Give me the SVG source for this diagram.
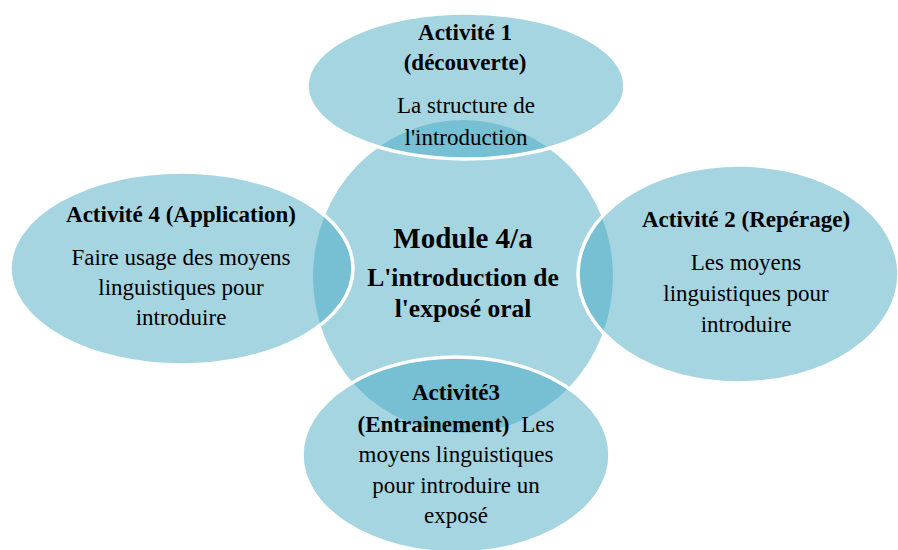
<svg xmlns="http://www.w3.org/2000/svg" width="898" height="550" viewBox="0 0 898 550">
<style>
.bg{fill:#ffffff}
.hub{fill:#a6d5e2}
.sat{fill:#46a8c3;fill-opacity:0.48;stroke:#ffffff;stroke-width:3.5}
text{font-family:"Liberation Serif","Times New Roman",serif;fill:#000000;text-anchor:middle}
.t{font-size:23px;font-weight:bold}
.r{font-size:23px}
.m1{font-size:29px;font-weight:bold}
.m2{font-size:25.5px;font-weight:bold}
</style>
<rect class="bg" x="0" y="0" width="898" height="550"/>
<g id="connectors"/>
<g id="hub">
<ellipse class="hub" cx="463" cy="276.5" rx="150" ry="156.5"/>
<text class="m1" x="463" y="248">Module 4/a</text>
<text class="m2" x="463" y="286">L'introduction de</text>
<text class="m2" x="463" y="317">l'exposé oral</text>
</g>
<g id="activite1">
<ellipse class="sat" cx="466" cy="86" rx="159" ry="73"/>
<text class="t" x="465" y="40">Activité 1</text>
<text class="t" x="465" y="70">(découverte)</text>
<text class="r" x="466" y="113">La structure de</text>
<text class="r" x="466" y="145">l'introduction</text>
</g>
<g id="activite4">
<ellipse class="sat" cx="181.5" cy="268.5" rx="171.5" ry="96.5"/>
<text class="t" x="181" y="222">Activité 4 (Application)</text>
<text class="r" x="181" y="265">Faire usage des moyens</text>
<text class="r" x="181" y="295">linguistiques pour</text>
<text class="r" x="181" y="325">introduire</text>
</g>
<g id="activite2">
<ellipse class="sat" cx="738.5" cy="274" rx="160.5" ry="109"/>
<text class="t" x="746" y="227">Activité 2 (Repérage)</text>
<text class="r" x="746" y="270">Les moyens</text>
<text class="r" x="746" y="301">linguistiques pour</text>
<text class="r" x="746" y="332">introduire</text>
</g>
<g id="activite3">
<ellipse class="sat" cx="456" cy="455" rx="154" ry="98"/>
<text class="t" x="456" y="400">Activité3</text>
<text x="456" y="432" class="r"><tspan font-weight="bold">(Entrainement)</tspan><tspan dx="6"> Les</tspan></text>
<text class="r" x="456" y="462">moyens linguistiques</text>
<text class="r" x="456" y="493">pour introduire un</text>
<text class="r" x="456" y="523">exposé</text>
</g>
</svg>
